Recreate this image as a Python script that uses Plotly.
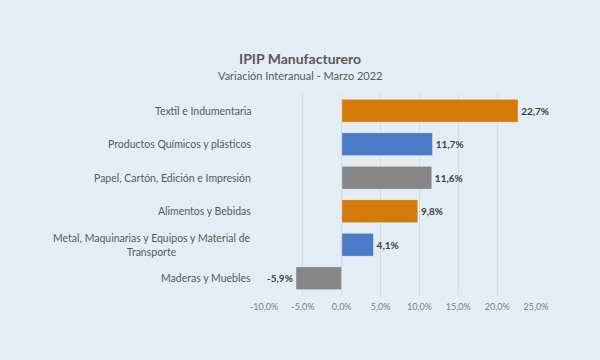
import plotly.graph_objects as go

categories = [
    "Textil e Indumentaria",
    "Productos Químicos y plásticos",
    "Papel, Cartón, Edición e Impresión",
    "Alimentos y Bebidas",
    "Metal, Maquinarias y Equipos y Material de<br>Transporte",
    "Maderas y Muebles",
]
values = [22.7, 11.7, 11.6, 9.8, 4.1, -5.9]
bar_colors = ["#D47A0A", "#4A7AC8", "#878787", "#D47A0A", "#4A7AC8", "#878787"]
tick_vals = [-10, -5, 0, 5, 10, 15, 20, 25]
tick_text = ["-10,0%", "-5,0%", "0,0%", "5,0%", "10,0%", "15,0%", "20,0%", "25,0%"]
value_labels = [f"{v:.1f}%".replace(".", ",") for v in values]

font_family = "Lato, 'Open Sans', sans-serif"
bg = "#E3EDF5"

W, H = 600, 360
ML, MR, MT, MB = 264, 64, 94, 65
plot_w = W - ML - MR
cx = (300 - ML) / plot_w  # figure center in paper coords

fig = go.Figure()
fig.add_trace(go.Bar(
    x=values,
    y=list(range(len(categories))),
    orientation="h",
    marker=dict(color=bar_colors, line=dict(color="rgba(255,255,255,0.5)", width=1)),
    width=0.69,
    text=["<b>" + t + "</b>" for t in value_labels],
    textposition="outside",
    textfont=dict(family=font_family, size=10, color="#404040"),
    cliponaxis=False,
    hoverinfo="skip",
))

annotations = []
for i, c in enumerate(categories):
    annotations.append(dict(
        x=-0.04, xref="paper", y=i, yref="y",
        text=c, showarrow=False, xanchor="right", yanchor="middle",
        align="center",
        font=dict(family=font_family, size=10.5, color="#595959"),
    ))

annotations.append(dict(
    x=cx, xref="paper", y=1, yref="paper", yshift=36,
    text="<b>IPIP Manufacturero</b>", showarrow=False,
    xanchor="center", yanchor="middle",
    font=dict(family=font_family, size=14, color="#595959"),
))
annotations.append(dict(
    x=cx, xref="paper", y=1, yref="paper", yshift=19,
    text="Variación Interanual - Marzo 2022", showarrow=False,
    xanchor="center", yanchor="middle",
    font=dict(family=font_family, size=11, color="#595959"),
))

fig.update_layout(
    width=W, height=H,
    paper_bgcolor=bg, plot_bgcolor=bg,
    margin=dict(l=ML, r=MR, t=MT, b=MB),
    showlegend=False,
    annotations=annotations,
    xaxis=dict(
        range=[-10, 25],
        tickvals=tick_vals, ticktext=tick_text,
        showgrid=True, gridcolor="#D1DCE6", gridwidth=1,
        zeroline=False, showline=False,
        tickfont=dict(family=font_family, size=9, color="#7F7F7F"),
        ticks="", ticklabelstandoff=5,
        fixedrange=True,
    ),
    yaxis=dict(
        range=[5.5, -0.5],
        showticklabels=False, showgrid=False, zeroline=False,
        ticks="", fixedrange=True,
    ),
)

fig.write_html(
    "out.html",
    config={"displayModeBar": False},
    post_script="document.body.style.margin='0';document.body.style.background='" + bg + "';",
)
